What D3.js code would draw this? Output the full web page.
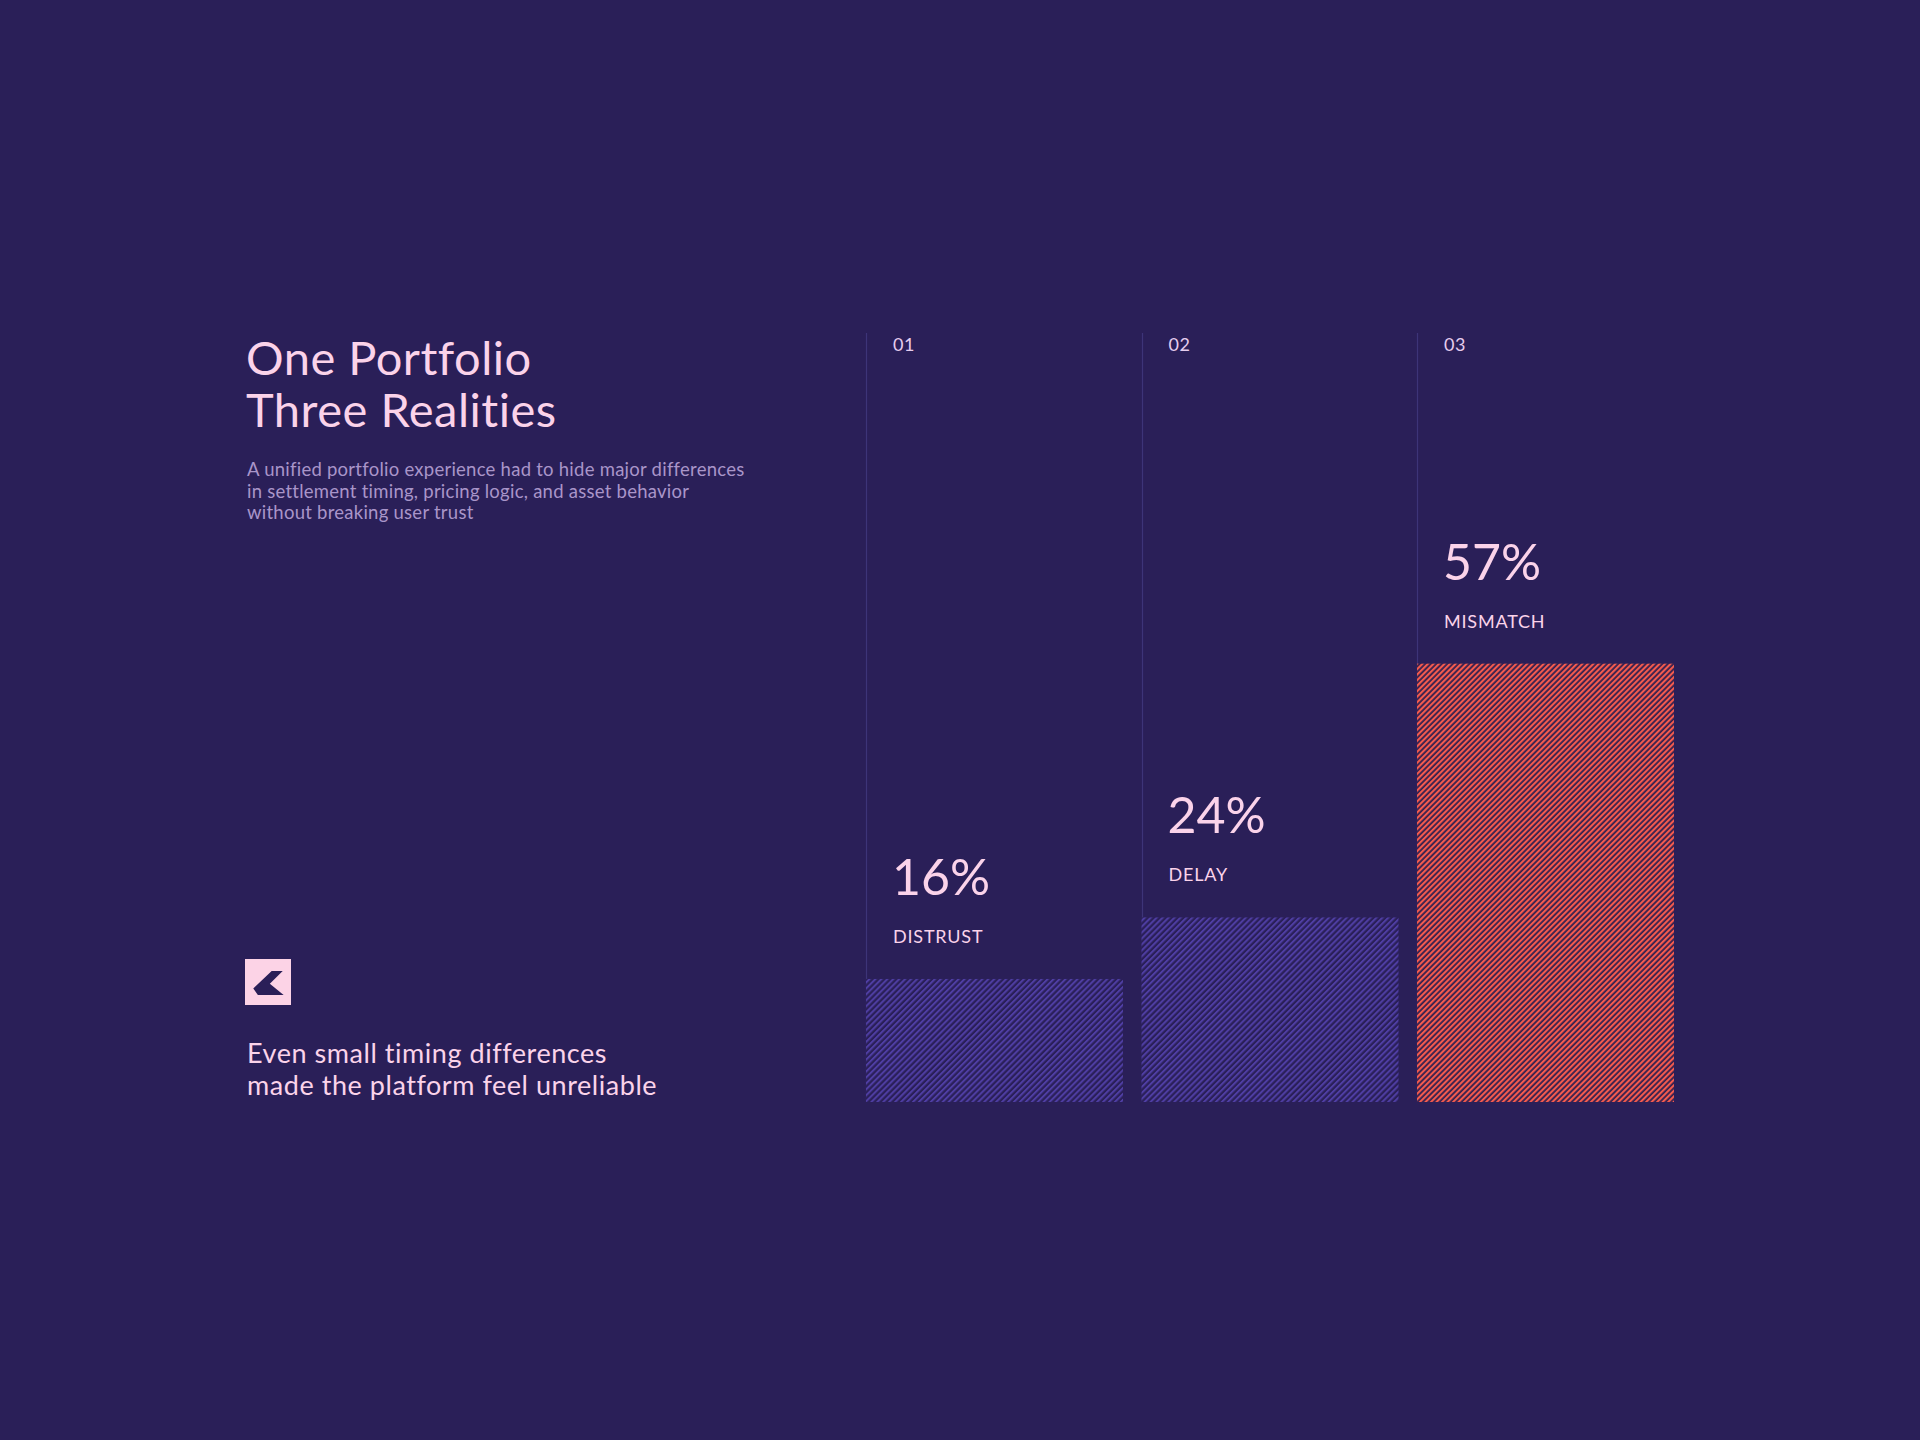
<!DOCTYPE html>
<html>
<head>
<meta charset="utf-8">
<script src="https://cdn.jsdelivr.net/npm/d3@7"></script>
<style>
  html, body { margin: 0; padding: 0; background: #2a1f58; }
  svg { display: block; }
  text { font-variant-ligatures: none; font-feature-settings: "liga" 0, "clig" 0; }
</style>
</head>
<body>
<svg id="chart" width="1920" height="1440"></svg>
<script>
// ---- data ----
const indices = ["01", "02", "03"];
const categories = ["DISTRUST", "DELAY", "MISMATCH"];
const values = [16, 24, 57];
const highlight = [false, false, true];
const titleLines = ["One Portfolio", "Three Realities"];
const subtitleLines = [
  "A unified portfolio experience had to hide major differences",
  "in settlement timing, pricing logic, and asset behavior",
  "without breaking user trust"
];
const footnoteLines = [
  "Even small timing differences",
  "made the platform feel unreliable"
];

const W = 1920, H = 1440;
const BG = "#2a1f58";
const PINK = "#fbd3ea";
const font = "Lato, 'Open Sans', sans-serif";

const svg = d3.select("#chart");
svg.append("rect").attr("width", W).attr("height", H).attr("fill", BG);

// patterns
const defs = svg.append("defs");
function stripes(id, color, gap, period, lw) {
  const p = defs.append("pattern")
    .attr("id", id)
    .attr("patternUnits", "userSpaceOnUse")
    .attr("width", period).attr("height", period)
    .attr("patternTransform", "rotate(45)");
  p.append("rect").attr("width", period).attr("height", period).attr("fill", gap);
  p.append("rect").attr("width", lw).attr("height", period).attr("fill", color);
}
stripes("hatchPurple", "#4f3ea3", BG, 4.2, 2.0);
stripes("hatchRed", "#f45b4e", "#33204f", 3.9, 2.1);

// scales
const x = d3.scaleBand()
  .domain(categories)
  .range([866, 1674])
  .paddingInner(0.0672)
  .paddingOuter(0);

const y = d3.scaleLinear().domain([0, 100]).range([1102, 333]);

// column divider lines
const cols = svg.append("g");
cols.selectAll("line.div")
  .data(categories)
  .join("line")
  .attr("x1", d => Math.round(x(d)) + 0.5)
  .attr("x2", d => Math.round(x(d)) + 0.5)
  .attr("y1", y(100))
  .attr("y2", y(0))
  .attr("stroke", "#3d3478")
  .attr("stroke-width", 1.2);

// bars
cols.selectAll("rect.bar")
  .data(categories)
  .join("rect")
  .attr("class", "bar")
  .attr("x", d => x(d))
  .attr("width", x.bandwidth())
  .attr("y", (d, i) => y(values[i]))
  .attr("height", (d, i) => y(0) - y(values[i]))
  .attr("fill", (d, i) => highlight[i] ? "url(#hatchRed)" : "url(#hatchPurple)");

// index labels
cols.selectAll("text.idx")
  .data(categories)
  .join("text")
  .attr("x", d => x(d) + 27)
  .attr("y", 351)
  .attr("fill", "#e6cdee")
  .attr("font-family", font)
  .attr("font-size", 18)
  .attr("letter-spacing", 0.5)
  .text((d, i) => indices[i]);

// value labels
cols.selectAll("text.val")
  .data(categories)
  .join("text")
  .attr("x", d => x(d) + 26)
  .attr("y", (d, i) => y(values[i]) - 84)
  .attr("fill", PINK)
  .attr("font-family", font)
  .attr("font-size", 50)
  .text((d, i) => values[i] + "%");

// category labels
cols.selectAll("text.cat")
  .data(categories)
  .join("text")
  .attr("x", d => x(d) + 27)
  .attr("y", (d, i) => y(values[i]) - 36)
  .attr("fill", PINK)
  .attr("font-family", font)
  .attr("font-size", 18)
  .attr("letter-spacing", 0.8)
  .text(d => d);

// title
const left = 246;
svg.append("g").selectAll("text")
  .data(titleLines)
  .join("text")
  .attr("x", left)
  .attr("y", (d, i) => 375 + i * 52)
  .attr("fill", PINK)
  .attr("font-family", font)
  .attr("font-size", 47)
  .attr("letter-spacing", 0.5)
  .text(d => d);

svg.append("g").selectAll("text")
  .data(subtitleLines)
  .join("text")
  .attr("x", left + 1)
  .attr("y", (d, i) => 476 + i * 21.5)
  .attr("fill", "#a995c9")
  .attr("font-family", font)
  .attr("font-size", 18.5)
  .attr("letter-spacing", 0.25)
  .text(d => d);

// logo
const logo = svg.append("g").attr("transform", "translate(245,959)");
const s = 46;
logo.append("rect").attr("width", s).attr("height", s).attr("fill", "#fcd3e6");
const pts = [[0.58,0.26],[0.82,0.26],[0.54,0.54],[0.84,0.78],[0.28,0.78],[0.18,0.64]];
logo.append("path")
  .attr("d", d3.line()(pts.map(p => [p[0] * s, p[1] * s])) + "Z")
  .attr("fill", BG);

// footnote
svg.append("g").selectAll("text")
  .data(footnoteLines)
  .join("text")
  .attr("x", left + 1)
  .attr("y", (d, i) => 1063 + i * 32)
  .attr("fill", PINK)
  .attr("font-family", font)
  .attr("font-size", 27)
  .attr("letter-spacing", 0.55)
  .text(d => d);
</script>
</body>
</html>
